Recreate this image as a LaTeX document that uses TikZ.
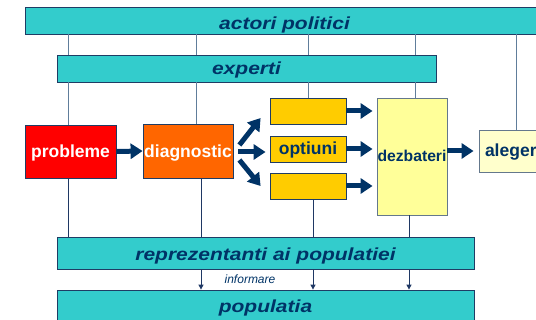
\documentclass[tikz,border=0pt]{standalone}
\usepackage{fontspec}
\usepackage{graphicx}
\setmainfont{Liberation Sans}
\usetikzlibrary{arrows.meta,calc}
\definecolor{navy}{RGB}{0,51,102}
\definecolor{tealbar}{RGB}{51,204,204}
\definecolor{barline}{RGB}{31,60,100}
\definecolor{slate}{RGB}{96,125,155}
\definecolor{lowline}{RGB}{31,56,100}
\definecolor{optfill}{RGB}{255,204,0}
\definecolor{diagfill}{RGB}{255,102,0}
\definecolor{dezfill}{RGB}{255,255,153}
\definecolor{alefill}{RGB}{255,255,204}
\definecolor{grayline}{RGB}{100,120,140}
\newcommand\stretchtxt[1]{\scalebox{1.2}[1]{#1}}
\begin{document}
\begin{tikzpicture}[x=1pt,y=-1pt,
  bar/.style={draw=barline, fill=tealbar, line width=0.8pt, inner sep=0pt,
    font=\bfseries\itshape\fontsize{17.5}{20}\selectfont, text=navy, text depth=0pt},
  box/.style={draw=barline, line width=0.8pt, inner sep=0pt,
    font=\bfseries\fontsize{17.5}{20}\selectfont, text depth=0pt},
  uplink/.style={draw=slate, line width=1pt},
  lowlink/.style={draw=lowline, line width=1pt},
  bigarrow/.style={draw=navy, line width=5pt, -{Triangle[length=12pt,width=15pt]}},
  smallarrow/.style={draw=lowline, line width=1pt, -{Triangle[length=5pt,width=5pt]}}
]
\useasboundingbox (0,0) rectangle (536,320);

% bars
\node[bar, minimum width=519pt, minimum height=27pt, text height=19pt] (actori) at (284.5,20.5) {\stretchtxt{actori politici}};
\node[bar, minimum width=379pt, minimum height=27pt, text height=13pt] (experti) at (246.5,68.5) {\stretchtxt{experti}};
\node[bar, minimum width=417pt, minimum height=32pt, text height=16pt] (repr) at (265.5,253) {\stretchtxt{reprezentanti ai populatiei}};
\node[bar, minimum width=417pt, minimum height=34pt, text height=12pt] (popul) at (265.5,307) {\stretchtxt{populatia}};

% boxes
\node[box, fill=red, text=white, minimum width=91pt, minimum height=53pt, text height=13pt] (prob) at (70.5,151.5) {probleme};
\node[box, fill=diagfill, text=white, minimum width=90pt, minimum height=54pt, text height=13pt] (diag) at (188,151) {diagnostic};
\node[box, fill=optfill, minimum width=76pt, minimum height=26pt] (opt1) at (308,111) {};
\node[box, fill=optfill, text=navy, minimum width=76pt, minimum height=26pt, text height=12pt] (opt2) at (308,149) {optiuni};
\node[box, fill=optfill, minimum width=76pt, minimum height=26pt] (opt3) at (308,186) {};
\node[box, draw=grayline, fill=dezfill, text=navy, minimum width=70pt, minimum height=117pt, text height=11pt,
  font=\bfseries\fontsize{15.7}{18}\selectfont] (dezb) at (412,156.5) {dezbateri};
\node[box, draw=grayline, fill=alefill, text=navy, minimum height=42pt, text height=12pt,
  text width=110pt, align=left, inner xsep=6pt] (aleg) at (540,151) {alegeri};

\node[font=\itshape\fontsize{12}{14}\selectfont, text=navy, inner sep=0pt] (inf) at (250,279) {informare};

% x positions of connectors
\coordinate (xa) at (68,0);
\coordinate (xb) at (196,0);
\coordinate (xc) at (308,0);
\coordinate (xd) at (415,0);
\coordinate (xe) at (516,0);
\coordinate (xf) at (201,0);
\coordinate (xg) at (313,0);
\coordinate (xh) at (409,0);

% upper links
\draw[uplink] (actori.south -| xa) -- (experti.north -| xa);
\draw[uplink] (actori.south -| xb) -- (experti.north -| xb);
\draw[uplink] (actori.south -| xc) -- (experti.north -| xc);
\draw[uplink] (actori.south -| xd) -- (experti.north -| xd);
\draw[uplink] (actori.south -| xe) -- (aleg.north -| xe);
\draw[uplink] (experti.south -| xa) -- (prob.north -| xa);
\draw[uplink] (experti.south -| xb) -- (diag.north -| xb);
\draw[uplink] (experti.south -| xc) -- (opt1.north -| xc);
\draw[uplink] (experti.south -| xd) -- (dezb.north -| xd);

% lower links
\draw[lowlink] (prob.south -| xa) -- (repr.north -| xa);
\draw[lowlink] (diag.south -| xf) -- (repr.north -| xf);
\draw[lowlink] (opt3.south -| xg) -- (repr.north -| xg);
\draw[lowlink] (dezb.south -| xh) -- (repr.north -| xh);

% informare arrows
\draw[smallarrow] (repr.south -| xf) -- (popul.north -| xf);
\draw[smallarrow] (repr.south -| xg) -- (popul.north -| xg);
\draw[smallarrow] (repr.south -| xh) -- (popul.north -| xh);

% thick arrows
\draw[bigarrow] (prob.east) -- (diag.west);
\draw[bigarrow] ($(diag.east)+(6,-6)$) -- ($(opt1.west)+(-9,7)$);
\draw[bigarrow] ($(diag.east)+(5,1)$) -- ($(opt2.west)+(-4,3)$);
\draw[bigarrow] ($(diag.east)+(6,9)$) -- ($(opt3.west)+(-9,0)$);
\draw[bigarrow] (opt1.east) -- ($(dezb.west |- opt1.east)+(-4,0)$);
\draw[bigarrow] (opt2.east) -- ($(dezb.west |- opt2.east)+(-4,0)$);
\draw[bigarrow] (opt3.east) -- ($(dezb.west |- opt3.east)+(-4,0)$);
\draw[bigarrow] (dezb.east |- aleg.west) -- ($(aleg.west)+(-5,0)$);
\end{tikzpicture}
\end{document}
